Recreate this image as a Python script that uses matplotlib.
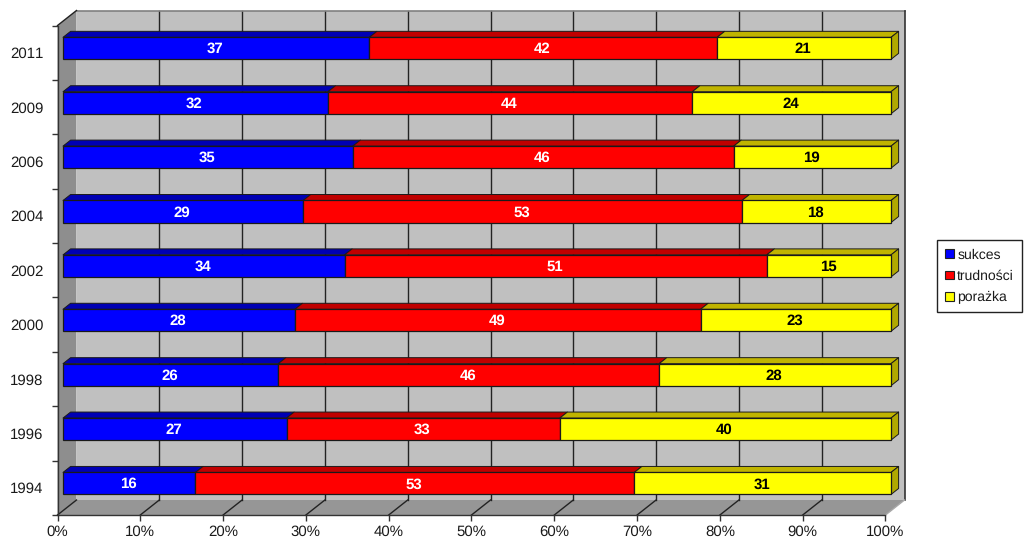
import matplotlib
matplotlib.use("Agg")
import matplotlib.pyplot as plt
from matplotlib.patches import Patch

plt.rcParams["font.family"] = ["Liberation Sans", "DejaVu Sans"]
plt.rcParams["text.hinting"] = "no_hinting"
plt.rcParams["text.hinting_factor"] = 1
plt.rcParams["text.kerning_factor"] = 6

years = ["1994", "1996", "1998", "2000", "2002", "2004", "2006", "2009", "2011"]
sukces = [16, 27, 26, 28, 34, 29, 35, 32, 37]
trudnosci = [53, 33, 46, 49, 51, 53, 46, 44, 42]
porazka = [31, 40, 28, 23, 15, 18, 19, 24, 21]
series_names = ["sukces", "trudności", "porażka"]
x_ticks = [0, 10, 20, 30, 40, 50, 60, 70, 80, 90, 100]

front_colors = ["#0000ff", "#ff0000", "#ffff00"]
top_colors = ["#0000b4", "#c00000", "#c0b400"]
text_colors = ["white", "white", "black"]
side_color = "#b0a800"

W, H = 1024, 546
# front plane of the 3d box, in pixels
left, right, top, bottom = 57.5, 885.5, 25.5, 515
WALL_DX, WALL_DY = 19, 15
BAR_NEAR = 0.29   # bar depth as part of the box depth
BAR_FAR = 0.69
BAR_H = 0.405

fig = plt.figure(figsize=(W / 100, H / 100), dpi=100, facecolor="white")
ax = fig.add_axes([left / W, 1 - bottom / H, (right - left) / W, (bottom - top) / H])
ax.set_xlim(0, 100)
ax.set_ylim(0, len(years))
ax.patch.set_visible(False)

ux = 100 / (right - left)
uy = len(years) / (bottom - top)


def shift(x, y, depth):
    # depth 0 = front plane, 1 = back wall
    return x + depth * WALL_DX * ux, y + depth * WALL_DY * uy


def face(points, color, edge="none", lw=0.0, z=1):
    xs, ys = zip(*points)
    ax.fill(xs, ys, facecolor=color, edgecolor=edge, linewidth=lw, zorder=z,
            clip_on=False, joinstyle="round")


n = len(years)
# walls
face([shift(0, 0, 1), shift(100, 0, 1), shift(100, n, 1), shift(0, n, 1)], "#c0c0c0", z=1)
face([(0, 0), shift(0, 0, 1), shift(0, n, 1), (0, n)], "#8e8e8e", z=1)
face([(0, 0), (100, 0), shift(100, 0, 1), shift(0, 0, 1)], "#969696", z=1)

# grid on back wall and floor
for t in x_ticks[1:-1]:
    x0, y0 = shift(t, 0, 1)
    x1, y1 = shift(t, n, 1)
    ax.plot([x0, x1], [y0, y1], color="#222222", lw=1.0, zorder=2, clip_on=False)
    ax.plot([t, x0], [0, y0], color="#222222", lw=1.0, zorder=2, clip_on=False)

x0, y0 = shift(0, n, 1)
x1, y1 = shift(100, n, 1)
ax.plot([x0, x1], [y0, y1], color="#808080", lw=1.2, zorder=2, clip_on=False)
x2, y2 = shift(100, 0, 1)
ax.plot([x1, x2], [y1, y2], color="#333333", lw=1.2, zorder=2, clip_on=False)
ax.plot([100, x2], [0, y2], color="#a8a8a8", lw=1.0, zorder=2, clip_on=False)
ax.plot([0, x0], [n, y0], color="#222222", lw=1.0, zorder=2, clip_on=False)
ax.plot([0, shift(0, 0, 1)[0]], [0, shift(0, 0, 1)[1]], color="#222222", lw=1.0, zorder=2, clip_on=False)

# bars, lowest category first so upper ones sit behind nothing
series = [sukces, trudnosci, porazka]
for i in range(n):
    yc = i + 0.5
    start = 0
    for s, values in enumerate(series):
        v = values[i]
        y_low = yc - BAR_H / 2
        y_high = yc + BAR_H / 2
        a = shift(start, y_high, BAR_NEAR)
        b = shift(start + v, y_high, BAR_NEAR)
        c = shift(start + v, y_high, BAR_FAR)
        d = shift(start, y_high, BAR_FAR)
        face([a, b, c, d], top_colors[s], "#1a1a1a", 0.7, z=3)
        fx0, fy0 = shift(start, y_low, BAR_NEAR)
        fx1, fy1 = shift(start + v, y_high, BAR_NEAR)
        ax.barh(fy0, fx1 - fx0, height=fy1 - fy0, left=fx0, align="edge",
                color=front_colors[s], edgecolor="#1a1a1a", linewidth=0.9,
                zorder=4, clip_on=False)
        ax.text((fx0 + fx1) / 2 - 1 * ux, (fy0 + fy1) / 2 - 1 * uy, str(v), color=text_colors[s],
                ha="center", va="center", fontsize=11, fontweight="bold", zorder=6)
        start += v
    e = shift(start, y_low, BAR_NEAR)
    f = shift(start, y_high, BAR_NEAR)
    g = shift(start, y_high, BAR_FAR)
    h = shift(start, y_low, BAR_FAR)
    face([e, f, g, h], side_color, "#1a1a1a", 0.7, z=3)

# axes
for name, sp in ax.spines.items():
    sp.set_visible(name in ("left", "bottom"))
    sp.set_color("#333333")
    sp.set_linewidth(1.0)
ax.set_xticks(x_ticks)
ax.set_xticklabels([f"{t}%" for t in x_ticks], fontsize=10.5, color="#1a1a1a")
ax.set_yticks(range(n + 1))
ax.set_yticklabels([])
ax.set_yticks([i + 0.5 for i in range(n)], minor=True)
ax.set_yticklabels(years, minor=True, fontsize=10.5, color="#1a1a1a")
ax.tick_params(axis="y", which="major", length=4, width=1, color="#333333")
ax.tick_params(axis="y", which="minor", length=0, pad=10)
ax.tick_params(axis="x", length=4, width=1, color="#333333", pad=3)

handles = [Patch(facecolor=c, edgecolor="#222222", linewidth=0.8) for c in front_colors]
fig.legend(handles, series_names, loc="upper left", bbox_to_anchor=(937 / W, 1 - 240 / H),
           borderaxespad=0, fontsize=10, frameon=True, fancybox=False, framealpha=1,
           edgecolor="#222222", handlelength=0.6, handleheight=0.6, handletextpad=0.25,
           labelspacing=0.6, borderpad=0.6, labelcolor="#1a1a1a")

fig.savefig("out.png", dpi=100, facecolor="white")
